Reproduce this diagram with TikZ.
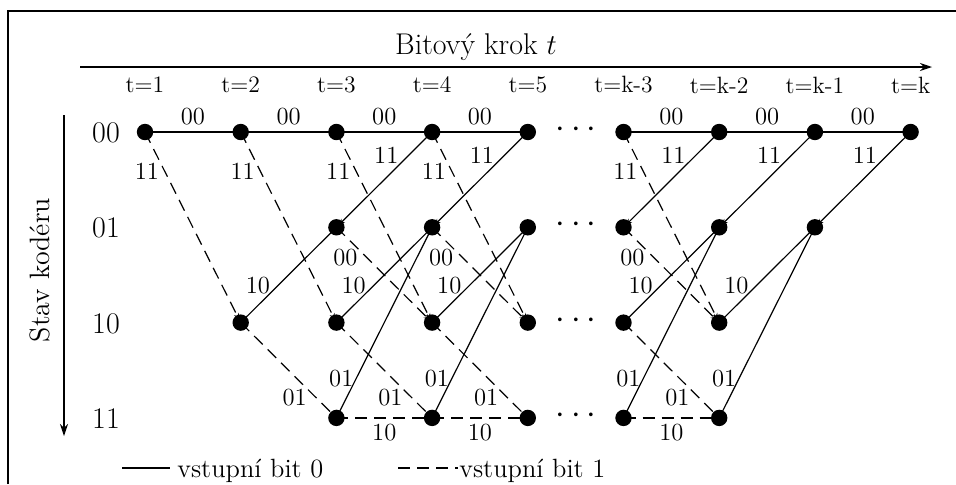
\documentclass[tikz,border=0pt]{standalone}
\usetikzlibrary{arrows.meta}
\begin{document}
\begin{tikzpicture}[x=0.5pt,y=-0.5pt,
  dot/.style={circle,fill=black,inner sep=0pt,minimum size=8.2pt},
  solidedge/.style={line width=0.6pt},
  dashedge/.style={line width=0.6pt,dash pattern=on 6pt off 3.5pt},
  tipend/.style={-{Stealth[length=3.3pt,width=2.6pt]},shorten >=1.5pt},
  tipstart/.style={{Stealth[length=3.3pt,width=2.6pt]}-,shorten <=1.5pt},
  lbl/.style={font=\fontsize{12.3}{14}\selectfont,inner sep=3pt},
  tlbl/.style={font=\fontsize{11.8}{14}\selectfont},
  legtext/.style={font=\fontsize{13.2}{15}\selectfont,inner sep=0pt,anchor=base west},
  state/.style={font=\fontsize{15}{17}\selectfont},
  axis/.style={line width=0.7pt,-{Stealth[length=6pt,width=4pt]}},
]
\useasboundingbox (0,0) rectangle (956,484);
\draw[line width=1pt] (8,484) -- (8,11) -- (956,11);

% trellis nodes
\foreach \n/\i/\r in {a1/0/0, a2/1/0, c2/1/2,
  a3/2/0, b3/2/1, c3/2/2, d3/2/3,
  a4/3/0, b4/3/1, c4/3/2, d4/3/3,
  a5/4/0, b5/4/1, c5/4/2, d5/4/3,
  a6/5/0, b6/5/1, c6/5/2, d6/5/3,
  a7/6/0, b7/6/1, c7/6/2, d7/6/3,
  a8/7/0, b8/7/1,
  a9/8/0}
  \node[dot] (\n) at ({145+95.7*\i},{132+95.3*\r}) {};

% edges
\foreach \s/\t in {1/2,2/3,3/4,4/5,6/7,7/8,8/9}
  \draw[solidedge] (a\s.center) -- node[lbl,above,yshift=0.3pt]{00} (a\t.center);
\foreach \s/\t in {1/2,2/3,3/4,4/5,6/7}
  \draw[dashedge,tipend] (a\s.center) -- node[lbl,pos=0.204,left,xshift=0.5pt]{11} (c\t.center);
\foreach \s/\t in {3/4,4/5,6/7,7/8,8/9}
  \draw[solidedge,tipstart] (b\s.center) -- node[lbl,pos=0.758,left,xshift=-2pt]{11} (a\t.center);
\foreach \s/\t in {3/4,4/5,6/7}
  \draw[dashedge,tipend] (b\s.center) -- node[lbl,pos=0.32,left,xshift=-1.5pt]{00} (c\t.center);
\foreach \s/\t in {2/3,3/4,4/5,6/7,7/8}
  \draw[solidedge] (c\s.center) -- node[lbl,pos=0.385,left,xshift=-0.5pt]{10} (b\t.center);
\foreach \s/\t in {2/3,3/4,4/5,6/7}
  \draw[dashedge] (c\s.center) -- node[lbl,pos=0.79,left,xshift=-1.5pt]{01} (d\t.center);
\foreach \s/\t in {3/4,4/5,6/7,7/8}
  \draw[solidedge] (d\s.center) -- node[lbl,pos=0.204,left,xshift=2pt]{01} (b\t.center);
\foreach \s/\t in {3/4,4/5,6/7}
  \draw[dashedge] (d\s.center) -- node[lbl,below,yshift=0.3pt]{10} (d\t.center);

% title and time axis
\node[font=\fontsize{15}{18}\selectfont] (title) at (476,47) {Bitový krok $t$};
\coordinate (ax0) at (80,67);
\coordinate (ax1) at (932,67);
\draw[axis] (ax0) -- (ax1);
\foreach \i/\l in {0/1,1/2,2/3,3/4,4/5,5/k-3,6/k-2,7/k-1,8/k}
  \node[tlbl] (t\i) at ({145+95.7*\i},85) {t=\l};

% state axis
\coordinate (ay0) at (64,115);
\coordinate (ay1) at (64,436);
\draw[axis] (ay0) -- (ay1);
\node[rotate=90,font=\fontsize{14}{16}\selectfont] (ylab) at (40,270) {Stav kodéru};
\foreach \r/\l in {0/00,1/01,2/10,3/11}
  \node[state] (s\l) at (106,{133+95.3*\r}) {\l};

% dots
\foreach \r in {0,1,2,3}
  \node[font=\fontsize{17}{19}\selectfont,inner sep=0pt] (dots\r) at (576,{130+95.3*\r}) {$\cdots$};

% legend
\coordinate (l0a) at (122,468);
\coordinate (l0b) at (170,468);
\draw[solidedge] (l0a) -- (l0b);
\node[legtext] (leg0) at (177,477) {vstupní bit 0};
\coordinate (l1a) at (398,468);
\coordinate (l1b) at (458,468);
\draw[dashedge] (l1a) -- (l1b);
\node[legtext] (leg1) at (459,477) {vstupní bit 1};
\end{tikzpicture}
\end{document}
